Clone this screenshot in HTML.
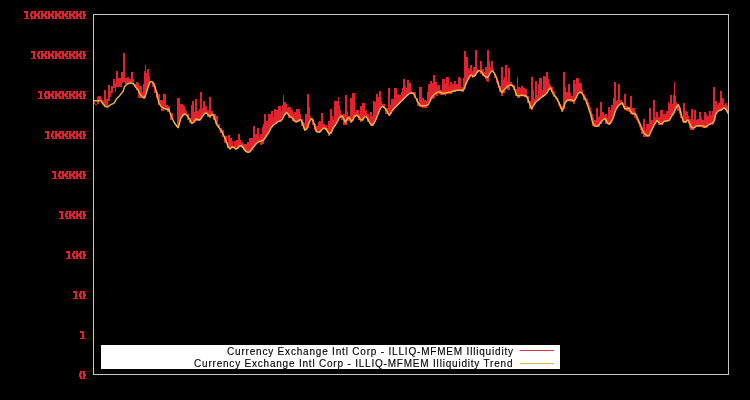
<!DOCTYPE html>
<html><head><meta charset="utf-8"><title>chart</title>
<style>
html,body{margin:0;padding:0;background:#000;}
body{width:750px;height:400px;overflow:hidden;font-family:"Liberation Sans",sans-serif;}
svg{display:block}
text{font-family:"Liberation Sans",sans-serif;font-size:10px;fill:#000;stroke:#000;stroke-width:0.15px}
</style></head><body>
<svg width="750" height="400" viewBox="0 0 750 400">
<rect width="750" height="400" fill="#000"/>
<g fill="#e61f2d" shape-rendering="crispEdges"><rect x="80" y="11" width="5" height="1"/><rect x="80" y="12" width="2" height="1"/><rect x="83" y="12" width="2" height="1"/><rect x="79" y="13" width="3" height="1"/><rect x="83" y="13" width="2" height="1"/><rect x="79" y="14" width="2" height="1"/><rect x="83" y="14" width="3" height="1"/><rect x="79" y="15" width="2" height="1"/><rect x="83" y="15" width="3" height="1"/><rect x="79" y="16" width="3" height="1"/><rect x="83" y="16" width="2" height="1"/><rect x="80" y="17" width="2" height="1"/><rect x="83" y="17" width="2" height="1"/><rect x="80" y="18" width="5" height="1"/><rect x="73" y="11" width="5" height="1"/><rect x="73" y="12" width="2" height="1"/><rect x="76" y="12" width="2" height="1"/><rect x="72" y="13" width="3" height="1"/><rect x="76" y="13" width="2" height="1"/><rect x="72" y="14" width="2" height="1"/><rect x="76" y="14" width="3" height="1"/><rect x="72" y="15" width="2" height="1"/><rect x="76" y="15" width="3" height="1"/><rect x="72" y="16" width="3" height="1"/><rect x="76" y="16" width="2" height="1"/><rect x="73" y="17" width="2" height="1"/><rect x="76" y="17" width="2" height="1"/><rect x="73" y="18" width="5" height="1"/><rect x="66" y="11" width="5" height="1"/><rect x="66" y="12" width="2" height="1"/><rect x="69" y="12" width="2" height="1"/><rect x="65" y="13" width="3" height="1"/><rect x="69" y="13" width="2" height="1"/><rect x="65" y="14" width="2" height="1"/><rect x="69" y="14" width="3" height="1"/><rect x="65" y="15" width="2" height="1"/><rect x="69" y="15" width="3" height="1"/><rect x="65" y="16" width="3" height="1"/><rect x="69" y="16" width="2" height="1"/><rect x="66" y="17" width="2" height="1"/><rect x="69" y="17" width="2" height="1"/><rect x="66" y="18" width="5" height="1"/><rect x="59" y="11" width="5" height="1"/><rect x="59" y="12" width="2" height="1"/><rect x="62" y="12" width="2" height="1"/><rect x="58" y="13" width="3" height="1"/><rect x="62" y="13" width="2" height="1"/><rect x="58" y="14" width="2" height="1"/><rect x="62" y="14" width="3" height="1"/><rect x="58" y="15" width="2" height="1"/><rect x="62" y="15" width="3" height="1"/><rect x="58" y="16" width="3" height="1"/><rect x="62" y="16" width="2" height="1"/><rect x="59" y="17" width="2" height="1"/><rect x="62" y="17" width="2" height="1"/><rect x="59" y="18" width="5" height="1"/><rect x="52" y="11" width="5" height="1"/><rect x="52" y="12" width="2" height="1"/><rect x="55" y="12" width="2" height="1"/><rect x="51" y="13" width="3" height="1"/><rect x="55" y="13" width="2" height="1"/><rect x="51" y="14" width="2" height="1"/><rect x="55" y="14" width="3" height="1"/><rect x="51" y="15" width="2" height="1"/><rect x="55" y="15" width="3" height="1"/><rect x="51" y="16" width="3" height="1"/><rect x="55" y="16" width="2" height="1"/><rect x="52" y="17" width="2" height="1"/><rect x="55" y="17" width="2" height="1"/><rect x="52" y="18" width="5" height="1"/><rect x="45" y="11" width="5" height="1"/><rect x="45" y="12" width="2" height="1"/><rect x="48" y="12" width="2" height="1"/><rect x="44" y="13" width="3" height="1"/><rect x="48" y="13" width="2" height="1"/><rect x="44" y="14" width="2" height="1"/><rect x="48" y="14" width="3" height="1"/><rect x="44" y="15" width="2" height="1"/><rect x="48" y="15" width="3" height="1"/><rect x="44" y="16" width="3" height="1"/><rect x="48" y="16" width="2" height="1"/><rect x="45" y="17" width="2" height="1"/><rect x="48" y="17" width="2" height="1"/><rect x="45" y="18" width="5" height="1"/><rect x="38" y="11" width="5" height="1"/><rect x="38" y="12" width="2" height="1"/><rect x="41" y="12" width="2" height="1"/><rect x="37" y="13" width="3" height="1"/><rect x="41" y="13" width="2" height="1"/><rect x="37" y="14" width="2" height="1"/><rect x="41" y="14" width="3" height="1"/><rect x="37" y="15" width="2" height="1"/><rect x="41" y="15" width="3" height="1"/><rect x="37" y="16" width="3" height="1"/><rect x="41" y="16" width="2" height="1"/><rect x="38" y="17" width="2" height="1"/><rect x="41" y="17" width="2" height="1"/><rect x="38" y="18" width="5" height="1"/><rect x="31" y="11" width="5" height="1"/><rect x="31" y="12" width="2" height="1"/><rect x="34" y="12" width="2" height="1"/><rect x="30" y="13" width="3" height="1"/><rect x="34" y="13" width="2" height="1"/><rect x="30" y="14" width="2" height="1"/><rect x="34" y="14" width="3" height="1"/><rect x="30" y="15" width="2" height="1"/><rect x="34" y="15" width="3" height="1"/><rect x="30" y="16" width="3" height="1"/><rect x="34" y="16" width="2" height="1"/><rect x="31" y="17" width="2" height="1"/><rect x="34" y="17" width="2" height="1"/><rect x="31" y="18" width="5" height="1"/><rect x="24" y="11" width="4" height="1"/><rect x="24" y="12" width="4" height="1"/><rect x="26" y="13" width="2" height="1"/><rect x="26" y="14" width="2" height="1"/><rect x="26" y="15" width="2" height="1"/><rect x="26" y="16" width="2" height="1"/><rect x="26" y="17" width="2" height="1"/><rect x="24" y="18" width="5" height="1"/><rect x="80" y="51" width="5" height="1"/><rect x="80" y="52" width="2" height="1"/><rect x="83" y="52" width="2" height="1"/><rect x="79" y="53" width="3" height="1"/><rect x="83" y="53" width="2" height="1"/><rect x="79" y="54" width="2" height="1"/><rect x="83" y="54" width="3" height="1"/><rect x="79" y="55" width="2" height="1"/><rect x="83" y="55" width="3" height="1"/><rect x="79" y="56" width="3" height="1"/><rect x="83" y="56" width="2" height="1"/><rect x="80" y="57" width="2" height="1"/><rect x="83" y="57" width="2" height="1"/><rect x="80" y="58" width="5" height="1"/><rect x="73" y="51" width="5" height="1"/><rect x="73" y="52" width="2" height="1"/><rect x="76" y="52" width="2" height="1"/><rect x="72" y="53" width="3" height="1"/><rect x="76" y="53" width="2" height="1"/><rect x="72" y="54" width="2" height="1"/><rect x="76" y="54" width="3" height="1"/><rect x="72" y="55" width="2" height="1"/><rect x="76" y="55" width="3" height="1"/><rect x="72" y="56" width="3" height="1"/><rect x="76" y="56" width="2" height="1"/><rect x="73" y="57" width="2" height="1"/><rect x="76" y="57" width="2" height="1"/><rect x="73" y="58" width="5" height="1"/><rect x="66" y="51" width="5" height="1"/><rect x="66" y="52" width="2" height="1"/><rect x="69" y="52" width="2" height="1"/><rect x="65" y="53" width="3" height="1"/><rect x="69" y="53" width="2" height="1"/><rect x="65" y="54" width="2" height="1"/><rect x="69" y="54" width="3" height="1"/><rect x="65" y="55" width="2" height="1"/><rect x="69" y="55" width="3" height="1"/><rect x="65" y="56" width="3" height="1"/><rect x="69" y="56" width="2" height="1"/><rect x="66" y="57" width="2" height="1"/><rect x="69" y="57" width="2" height="1"/><rect x="66" y="58" width="5" height="1"/><rect x="59" y="51" width="5" height="1"/><rect x="59" y="52" width="2" height="1"/><rect x="62" y="52" width="2" height="1"/><rect x="58" y="53" width="3" height="1"/><rect x="62" y="53" width="2" height="1"/><rect x="58" y="54" width="2" height="1"/><rect x="62" y="54" width="3" height="1"/><rect x="58" y="55" width="2" height="1"/><rect x="62" y="55" width="3" height="1"/><rect x="58" y="56" width="3" height="1"/><rect x="62" y="56" width="2" height="1"/><rect x="59" y="57" width="2" height="1"/><rect x="62" y="57" width="2" height="1"/><rect x="59" y="58" width="5" height="1"/><rect x="52" y="51" width="5" height="1"/><rect x="52" y="52" width="2" height="1"/><rect x="55" y="52" width="2" height="1"/><rect x="51" y="53" width="3" height="1"/><rect x="55" y="53" width="2" height="1"/><rect x="51" y="54" width="2" height="1"/><rect x="55" y="54" width="3" height="1"/><rect x="51" y="55" width="2" height="1"/><rect x="55" y="55" width="3" height="1"/><rect x="51" y="56" width="3" height="1"/><rect x="55" y="56" width="2" height="1"/><rect x="52" y="57" width="2" height="1"/><rect x="55" y="57" width="2" height="1"/><rect x="52" y="58" width="5" height="1"/><rect x="45" y="51" width="5" height="1"/><rect x="45" y="52" width="2" height="1"/><rect x="48" y="52" width="2" height="1"/><rect x="44" y="53" width="3" height="1"/><rect x="48" y="53" width="2" height="1"/><rect x="44" y="54" width="2" height="1"/><rect x="48" y="54" width="3" height="1"/><rect x="44" y="55" width="2" height="1"/><rect x="48" y="55" width="3" height="1"/><rect x="44" y="56" width="3" height="1"/><rect x="48" y="56" width="2" height="1"/><rect x="45" y="57" width="2" height="1"/><rect x="48" y="57" width="2" height="1"/><rect x="45" y="58" width="5" height="1"/><rect x="38" y="51" width="5" height="1"/><rect x="38" y="52" width="2" height="1"/><rect x="41" y="52" width="2" height="1"/><rect x="37" y="53" width="3" height="1"/><rect x="41" y="53" width="2" height="1"/><rect x="37" y="54" width="2" height="1"/><rect x="41" y="54" width="3" height="1"/><rect x="37" y="55" width="2" height="1"/><rect x="41" y="55" width="3" height="1"/><rect x="37" y="56" width="3" height="1"/><rect x="41" y="56" width="2" height="1"/><rect x="38" y="57" width="2" height="1"/><rect x="41" y="57" width="2" height="1"/><rect x="38" y="58" width="5" height="1"/><rect x="31" y="51" width="4" height="1"/><rect x="31" y="52" width="4" height="1"/><rect x="33" y="53" width="2" height="1"/><rect x="33" y="54" width="2" height="1"/><rect x="33" y="55" width="2" height="1"/><rect x="33" y="56" width="2" height="1"/><rect x="33" y="57" width="2" height="1"/><rect x="31" y="58" width="5" height="1"/><rect x="80" y="91" width="5" height="1"/><rect x="80" y="92" width="2" height="1"/><rect x="83" y="92" width="2" height="1"/><rect x="79" y="93" width="3" height="1"/><rect x="83" y="93" width="2" height="1"/><rect x="79" y="94" width="2" height="1"/><rect x="83" y="94" width="3" height="1"/><rect x="79" y="95" width="2" height="1"/><rect x="83" y="95" width="3" height="1"/><rect x="79" y="96" width="3" height="1"/><rect x="83" y="96" width="2" height="1"/><rect x="80" y="97" width="2" height="1"/><rect x="83" y="97" width="2" height="1"/><rect x="80" y="98" width="5" height="1"/><rect x="73" y="91" width="5" height="1"/><rect x="73" y="92" width="2" height="1"/><rect x="76" y="92" width="2" height="1"/><rect x="72" y="93" width="3" height="1"/><rect x="76" y="93" width="2" height="1"/><rect x="72" y="94" width="2" height="1"/><rect x="76" y="94" width="3" height="1"/><rect x="72" y="95" width="2" height="1"/><rect x="76" y="95" width="3" height="1"/><rect x="72" y="96" width="3" height="1"/><rect x="76" y="96" width="2" height="1"/><rect x="73" y="97" width="2" height="1"/><rect x="76" y="97" width="2" height="1"/><rect x="73" y="98" width="5" height="1"/><rect x="66" y="91" width="5" height="1"/><rect x="66" y="92" width="2" height="1"/><rect x="69" y="92" width="2" height="1"/><rect x="65" y="93" width="3" height="1"/><rect x="69" y="93" width="2" height="1"/><rect x="65" y="94" width="2" height="1"/><rect x="69" y="94" width="3" height="1"/><rect x="65" y="95" width="2" height="1"/><rect x="69" y="95" width="3" height="1"/><rect x="65" y="96" width="3" height="1"/><rect x="69" y="96" width="2" height="1"/><rect x="66" y="97" width="2" height="1"/><rect x="69" y="97" width="2" height="1"/><rect x="66" y="98" width="5" height="1"/><rect x="59" y="91" width="5" height="1"/><rect x="59" y="92" width="2" height="1"/><rect x="62" y="92" width="2" height="1"/><rect x="58" y="93" width="3" height="1"/><rect x="62" y="93" width="2" height="1"/><rect x="58" y="94" width="2" height="1"/><rect x="62" y="94" width="3" height="1"/><rect x="58" y="95" width="2" height="1"/><rect x="62" y="95" width="3" height="1"/><rect x="58" y="96" width="3" height="1"/><rect x="62" y="96" width="2" height="1"/><rect x="59" y="97" width="2" height="1"/><rect x="62" y="97" width="2" height="1"/><rect x="59" y="98" width="5" height="1"/><rect x="52" y="91" width="5" height="1"/><rect x="52" y="92" width="2" height="1"/><rect x="55" y="92" width="2" height="1"/><rect x="51" y="93" width="3" height="1"/><rect x="55" y="93" width="2" height="1"/><rect x="51" y="94" width="2" height="1"/><rect x="55" y="94" width="3" height="1"/><rect x="51" y="95" width="2" height="1"/><rect x="55" y="95" width="3" height="1"/><rect x="51" y="96" width="3" height="1"/><rect x="55" y="96" width="2" height="1"/><rect x="52" y="97" width="2" height="1"/><rect x="55" y="97" width="2" height="1"/><rect x="52" y="98" width="5" height="1"/><rect x="45" y="91" width="5" height="1"/><rect x="45" y="92" width="2" height="1"/><rect x="48" y="92" width="2" height="1"/><rect x="44" y="93" width="3" height="1"/><rect x="48" y="93" width="2" height="1"/><rect x="44" y="94" width="2" height="1"/><rect x="48" y="94" width="3" height="1"/><rect x="44" y="95" width="2" height="1"/><rect x="48" y="95" width="3" height="1"/><rect x="44" y="96" width="3" height="1"/><rect x="48" y="96" width="2" height="1"/><rect x="45" y="97" width="2" height="1"/><rect x="48" y="97" width="2" height="1"/><rect x="45" y="98" width="5" height="1"/><rect x="38" y="91" width="4" height="1"/><rect x="38" y="92" width="4" height="1"/><rect x="40" y="93" width="2" height="1"/><rect x="40" y="94" width="2" height="1"/><rect x="40" y="95" width="2" height="1"/><rect x="40" y="96" width="2" height="1"/><rect x="40" y="97" width="2" height="1"/><rect x="38" y="98" width="5" height="1"/><rect x="80" y="131" width="5" height="1"/><rect x="80" y="132" width="2" height="1"/><rect x="83" y="132" width="2" height="1"/><rect x="79" y="133" width="3" height="1"/><rect x="83" y="133" width="2" height="1"/><rect x="79" y="134" width="2" height="1"/><rect x="83" y="134" width="3" height="1"/><rect x="79" y="135" width="2" height="1"/><rect x="83" y="135" width="3" height="1"/><rect x="79" y="136" width="3" height="1"/><rect x="83" y="136" width="2" height="1"/><rect x="80" y="137" width="2" height="1"/><rect x="83" y="137" width="2" height="1"/><rect x="80" y="138" width="5" height="1"/><rect x="73" y="131" width="5" height="1"/><rect x="73" y="132" width="2" height="1"/><rect x="76" y="132" width="2" height="1"/><rect x="72" y="133" width="3" height="1"/><rect x="76" y="133" width="2" height="1"/><rect x="72" y="134" width="2" height="1"/><rect x="76" y="134" width="3" height="1"/><rect x="72" y="135" width="2" height="1"/><rect x="76" y="135" width="3" height="1"/><rect x="72" y="136" width="3" height="1"/><rect x="76" y="136" width="2" height="1"/><rect x="73" y="137" width="2" height="1"/><rect x="76" y="137" width="2" height="1"/><rect x="73" y="138" width="5" height="1"/><rect x="66" y="131" width="5" height="1"/><rect x="66" y="132" width="2" height="1"/><rect x="69" y="132" width="2" height="1"/><rect x="65" y="133" width="3" height="1"/><rect x="69" y="133" width="2" height="1"/><rect x="65" y="134" width="2" height="1"/><rect x="69" y="134" width="3" height="1"/><rect x="65" y="135" width="2" height="1"/><rect x="69" y="135" width="3" height="1"/><rect x="65" y="136" width="3" height="1"/><rect x="69" y="136" width="2" height="1"/><rect x="66" y="137" width="2" height="1"/><rect x="69" y="137" width="2" height="1"/><rect x="66" y="138" width="5" height="1"/><rect x="59" y="131" width="5" height="1"/><rect x="59" y="132" width="2" height="1"/><rect x="62" y="132" width="2" height="1"/><rect x="58" y="133" width="3" height="1"/><rect x="62" y="133" width="2" height="1"/><rect x="58" y="134" width="2" height="1"/><rect x="62" y="134" width="3" height="1"/><rect x="58" y="135" width="2" height="1"/><rect x="62" y="135" width="3" height="1"/><rect x="58" y="136" width="3" height="1"/><rect x="62" y="136" width="2" height="1"/><rect x="59" y="137" width="2" height="1"/><rect x="62" y="137" width="2" height="1"/><rect x="59" y="138" width="5" height="1"/><rect x="52" y="131" width="5" height="1"/><rect x="52" y="132" width="2" height="1"/><rect x="55" y="132" width="2" height="1"/><rect x="51" y="133" width="3" height="1"/><rect x="55" y="133" width="2" height="1"/><rect x="51" y="134" width="2" height="1"/><rect x="55" y="134" width="3" height="1"/><rect x="51" y="135" width="2" height="1"/><rect x="55" y="135" width="3" height="1"/><rect x="51" y="136" width="3" height="1"/><rect x="55" y="136" width="2" height="1"/><rect x="52" y="137" width="2" height="1"/><rect x="55" y="137" width="2" height="1"/><rect x="52" y="138" width="5" height="1"/><rect x="45" y="131" width="4" height="1"/><rect x="45" y="132" width="4" height="1"/><rect x="47" y="133" width="2" height="1"/><rect x="47" y="134" width="2" height="1"/><rect x="47" y="135" width="2" height="1"/><rect x="47" y="136" width="2" height="1"/><rect x="47" y="137" width="2" height="1"/><rect x="45" y="138" width="5" height="1"/><rect x="80" y="171" width="5" height="1"/><rect x="80" y="172" width="2" height="1"/><rect x="83" y="172" width="2" height="1"/><rect x="79" y="173" width="3" height="1"/><rect x="83" y="173" width="2" height="1"/><rect x="79" y="174" width="2" height="1"/><rect x="83" y="174" width="3" height="1"/><rect x="79" y="175" width="2" height="1"/><rect x="83" y="175" width="3" height="1"/><rect x="79" y="176" width="3" height="1"/><rect x="83" y="176" width="2" height="1"/><rect x="80" y="177" width="2" height="1"/><rect x="83" y="177" width="2" height="1"/><rect x="80" y="178" width="5" height="1"/><rect x="73" y="171" width="5" height="1"/><rect x="73" y="172" width="2" height="1"/><rect x="76" y="172" width="2" height="1"/><rect x="72" y="173" width="3" height="1"/><rect x="76" y="173" width="2" height="1"/><rect x="72" y="174" width="2" height="1"/><rect x="76" y="174" width="3" height="1"/><rect x="72" y="175" width="2" height="1"/><rect x="76" y="175" width="3" height="1"/><rect x="72" y="176" width="3" height="1"/><rect x="76" y="176" width="2" height="1"/><rect x="73" y="177" width="2" height="1"/><rect x="76" y="177" width="2" height="1"/><rect x="73" y="178" width="5" height="1"/><rect x="66" y="171" width="5" height="1"/><rect x="66" y="172" width="2" height="1"/><rect x="69" y="172" width="2" height="1"/><rect x="65" y="173" width="3" height="1"/><rect x="69" y="173" width="2" height="1"/><rect x="65" y="174" width="2" height="1"/><rect x="69" y="174" width="3" height="1"/><rect x="65" y="175" width="2" height="1"/><rect x="69" y="175" width="3" height="1"/><rect x="65" y="176" width="3" height="1"/><rect x="69" y="176" width="2" height="1"/><rect x="66" y="177" width="2" height="1"/><rect x="69" y="177" width="2" height="1"/><rect x="66" y="178" width="5" height="1"/><rect x="59" y="171" width="5" height="1"/><rect x="59" y="172" width="2" height="1"/><rect x="62" y="172" width="2" height="1"/><rect x="58" y="173" width="3" height="1"/><rect x="62" y="173" width="2" height="1"/><rect x="58" y="174" width="2" height="1"/><rect x="62" y="174" width="3" height="1"/><rect x="58" y="175" width="2" height="1"/><rect x="62" y="175" width="3" height="1"/><rect x="58" y="176" width="3" height="1"/><rect x="62" y="176" width="2" height="1"/><rect x="59" y="177" width="2" height="1"/><rect x="62" y="177" width="2" height="1"/><rect x="59" y="178" width="5" height="1"/><rect x="52" y="171" width="4" height="1"/><rect x="52" y="172" width="4" height="1"/><rect x="54" y="173" width="2" height="1"/><rect x="54" y="174" width="2" height="1"/><rect x="54" y="175" width="2" height="1"/><rect x="54" y="176" width="2" height="1"/><rect x="54" y="177" width="2" height="1"/><rect x="52" y="178" width="5" height="1"/><rect x="80" y="211" width="5" height="1"/><rect x="80" y="212" width="2" height="1"/><rect x="83" y="212" width="2" height="1"/><rect x="79" y="213" width="3" height="1"/><rect x="83" y="213" width="2" height="1"/><rect x="79" y="214" width="2" height="1"/><rect x="83" y="214" width="3" height="1"/><rect x="79" y="215" width="2" height="1"/><rect x="83" y="215" width="3" height="1"/><rect x="79" y="216" width="3" height="1"/><rect x="83" y="216" width="2" height="1"/><rect x="80" y="217" width="2" height="1"/><rect x="83" y="217" width="2" height="1"/><rect x="80" y="218" width="5" height="1"/><rect x="73" y="211" width="5" height="1"/><rect x="73" y="212" width="2" height="1"/><rect x="76" y="212" width="2" height="1"/><rect x="72" y="213" width="3" height="1"/><rect x="76" y="213" width="2" height="1"/><rect x="72" y="214" width="2" height="1"/><rect x="76" y="214" width="3" height="1"/><rect x="72" y="215" width="2" height="1"/><rect x="76" y="215" width="3" height="1"/><rect x="72" y="216" width="3" height="1"/><rect x="76" y="216" width="2" height="1"/><rect x="73" y="217" width="2" height="1"/><rect x="76" y="217" width="2" height="1"/><rect x="73" y="218" width="5" height="1"/><rect x="66" y="211" width="5" height="1"/><rect x="66" y="212" width="2" height="1"/><rect x="69" y="212" width="2" height="1"/><rect x="65" y="213" width="3" height="1"/><rect x="69" y="213" width="2" height="1"/><rect x="65" y="214" width="2" height="1"/><rect x="69" y="214" width="3" height="1"/><rect x="65" y="215" width="2" height="1"/><rect x="69" y="215" width="3" height="1"/><rect x="65" y="216" width="3" height="1"/><rect x="69" y="216" width="2" height="1"/><rect x="66" y="217" width="2" height="1"/><rect x="69" y="217" width="2" height="1"/><rect x="66" y="218" width="5" height="1"/><rect x="59" y="211" width="4" height="1"/><rect x="59" y="212" width="4" height="1"/><rect x="61" y="213" width="2" height="1"/><rect x="61" y="214" width="2" height="1"/><rect x="61" y="215" width="2" height="1"/><rect x="61" y="216" width="2" height="1"/><rect x="61" y="217" width="2" height="1"/><rect x="59" y="218" width="5" height="1"/><rect x="80" y="251" width="5" height="1"/><rect x="80" y="252" width="2" height="1"/><rect x="83" y="252" width="2" height="1"/><rect x="79" y="253" width="3" height="1"/><rect x="83" y="253" width="2" height="1"/><rect x="79" y="254" width="2" height="1"/><rect x="83" y="254" width="3" height="1"/><rect x="79" y="255" width="2" height="1"/><rect x="83" y="255" width="3" height="1"/><rect x="79" y="256" width="3" height="1"/><rect x="83" y="256" width="2" height="1"/><rect x="80" y="257" width="2" height="1"/><rect x="83" y="257" width="2" height="1"/><rect x="80" y="258" width="5" height="1"/><rect x="73" y="251" width="5" height="1"/><rect x="73" y="252" width="2" height="1"/><rect x="76" y="252" width="2" height="1"/><rect x="72" y="253" width="3" height="1"/><rect x="76" y="253" width="2" height="1"/><rect x="72" y="254" width="2" height="1"/><rect x="76" y="254" width="3" height="1"/><rect x="72" y="255" width="2" height="1"/><rect x="76" y="255" width="3" height="1"/><rect x="72" y="256" width="3" height="1"/><rect x="76" y="256" width="2" height="1"/><rect x="73" y="257" width="2" height="1"/><rect x="76" y="257" width="2" height="1"/><rect x="73" y="258" width="5" height="1"/><rect x="66" y="251" width="4" height="1"/><rect x="66" y="252" width="4" height="1"/><rect x="68" y="253" width="2" height="1"/><rect x="68" y="254" width="2" height="1"/><rect x="68" y="255" width="2" height="1"/><rect x="68" y="256" width="2" height="1"/><rect x="68" y="257" width="2" height="1"/><rect x="66" y="258" width="5" height="1"/><rect x="80" y="291" width="5" height="1"/><rect x="80" y="292" width="2" height="1"/><rect x="83" y="292" width="2" height="1"/><rect x="79" y="293" width="3" height="1"/><rect x="83" y="293" width="2" height="1"/><rect x="79" y="294" width="2" height="1"/><rect x="83" y="294" width="3" height="1"/><rect x="79" y="295" width="2" height="1"/><rect x="83" y="295" width="3" height="1"/><rect x="79" y="296" width="3" height="1"/><rect x="83" y="296" width="2" height="1"/><rect x="80" y="297" width="2" height="1"/><rect x="83" y="297" width="2" height="1"/><rect x="80" y="298" width="5" height="1"/><rect x="73" y="291" width="4" height="1"/><rect x="73" y="292" width="4" height="1"/><rect x="75" y="293" width="2" height="1"/><rect x="75" y="294" width="2" height="1"/><rect x="75" y="295" width="2" height="1"/><rect x="75" y="296" width="2" height="1"/><rect x="75" y="297" width="2" height="1"/><rect x="73" y="298" width="5" height="1"/><rect x="80" y="331" width="4" height="1"/><rect x="80" y="332" width="4" height="1"/><rect x="82" y="333" width="2" height="1"/><rect x="82" y="334" width="2" height="1"/><rect x="82" y="335" width="2" height="1"/><rect x="82" y="336" width="2" height="1"/><rect x="82" y="337" width="2" height="1"/><rect x="80" y="338" width="5" height="1"/><rect x="80" y="371" width="5" height="1"/><rect x="80" y="372" width="2" height="1"/><rect x="83" y="372" width="2" height="1"/><rect x="79" y="373" width="3" height="1"/><rect x="83" y="373" width="2" height="1"/><rect x="79" y="374" width="2" height="1"/><rect x="83" y="374" width="3" height="1"/><rect x="79" y="375" width="2" height="1"/><rect x="83" y="375" width="3" height="1"/><rect x="79" y="376" width="3" height="1"/><rect x="83" y="376" width="2" height="1"/><rect x="80" y="377" width="2" height="1"/><rect x="83" y="377" width="2" height="1"/><rect x="80" y="378" width="5" height="1"/></g>
<defs><filter id="b" x="-2%" y="-10%" width="104%" height="120%"><feGaussianBlur in="SourceGraphic" stdDeviation="0.55" result="bl"/><feMerge><feMergeNode in="bl"/><feMergeNode in="SourceGraphic"/></feMerge></filter></defs>
<g fill="#e2222f" filter="url(#b)"><rect x="94" y="102" width="1" height="2"/><rect x="95" y="104" width="1" height="1"/><rect x="96" y="104" width="1" height="1"/><rect x="97" y="97" width="1" height="7"/><rect x="98" y="96" width="1" height="8"/><rect x="99" y="96" width="1" height="4"/><rect x="100" y="96" width="1" height="4"/><rect x="101" y="98" width="1" height="2"/><rect x="102" y="100" width="1" height="2"/><rect x="103" y="101" width="1" height="3"/><rect x="104" y="90" width="1" height="16"/><rect x="105" y="90" width="1" height="16"/><rect x="106" y="99" width="1" height="7"/><rect x="107" y="99" width="1" height="7"/><rect x="108" y="85" width="1" height="16"/><rect x="109" y="85" width="1" height="16"/><rect x="110" y="91" width="1" height="6"/><rect x="111" y="86" width="1" height="7"/><rect x="112" y="86" width="1" height="7"/><rect x="113" y="79" width="1" height="9"/><rect x="114" y="79" width="1" height="9"/><rect x="115" y="83" width="1" height="9"/><rect x="116" y="71" width="1" height="16"/><rect x="117" y="71" width="1" height="16"/><rect x="118" y="78" width="1" height="9"/><rect x="119" y="78" width="1" height="9"/><rect x="120" y="78" width="1" height="9"/><rect x="121" y="72" width="1" height="15"/><rect x="122" y="72" width="1" height="11"/><rect x="123" y="53" width="1" height="29"/><rect x="124" y="53" width="1" height="29"/><rect x="125" y="78" width="1" height="6"/><rect x="126" y="78" width="1" height="6"/><rect x="127" y="77" width="1" height="6"/><rect x="128" y="77" width="1" height="6"/><rect x="129" y="79" width="1" height="3"/><rect x="130" y="79" width="1" height="3"/><rect x="131" y="72" width="1" height="10"/><rect x="132" y="72" width="1" height="10"/><rect x="133" y="79" width="1" height="5"/><rect x="134" y="84" width="1" height="3"/><rect x="135" y="84" width="1" height="3"/><rect x="136" y="82" width="1" height="8"/><rect x="137" y="82" width="1" height="8"/><rect x="138" y="83" width="1" height="15"/><rect x="139" y="86" width="1" height="12"/><rect x="140" y="86" width="1" height="12"/><rect x="141" y="86" width="1" height="12"/><rect x="142" y="92" width="1" height="6"/><rect x="143" y="84" width="1" height="15"/><rect x="144" y="71" width="1" height="28"/><rect x="145" y="65" width="1" height="33"/><rect x="146" y="73" width="1" height="20"/><rect x="147" y="69" width="1" height="21"/><rect x="148" y="69" width="1" height="18"/><rect x="149" y="76" width="1" height="8"/><rect x="150" y="81" width="1" height="1"/><rect x="151" y="81" width="1" height="1"/><rect x="152" y="83" width="1" height="4"/><rect x="153" y="83" width="1" height="4"/><rect x="154" y="83" width="1" height="10"/><rect x="155" y="86" width="1" height="7"/><rect x="156" y="92" width="1" height="6"/><rect x="157" y="92" width="1" height="6"/><rect x="158" y="94" width="1" height="11"/><rect x="159" y="94" width="1" height="11"/><rect x="160" y="100" width="1" height="6"/><rect x="161" y="100" width="1" height="11"/><rect x="162" y="100" width="1" height="11"/><rect x="163" y="94" width="1" height="17"/><rect x="164" y="94" width="1" height="15"/><rect x="165" y="94" width="1" height="15"/><rect x="166" y="105" width="1" height="5"/><rect x="167" y="105" width="1" height="7"/><rect x="168" y="106" width="1" height="6"/><rect x="169" y="106" width="1" height="6"/><rect x="170" y="113" width="1" height="7"/><rect x="171" y="113" width="1" height="7"/><rect x="172" y="113" width="1" height="7"/><rect x="173" y="120" width="1" height="2"/><rect x="174" y="122" width="1" height="2"/><rect x="175" y="124" width="1" height="1"/><rect x="176" y="125" width="1" height="2"/><rect x="177" y="98" width="1" height="30"/><rect x="178" y="98" width="1" height="30"/><rect x="179" y="98" width="1" height="27"/><rect x="180" y="104" width="1" height="17"/><rect x="181" y="104" width="1" height="14"/><rect x="182" y="104" width="1" height="13"/><rect x="183" y="105" width="1" height="11"/><rect x="184" y="106" width="1" height="9"/><rect x="185" y="109" width="1" height="6"/><rect x="186" y="111" width="1" height="5"/><rect x="187" y="114" width="1" height="6"/><rect x="188" y="114" width="1" height="6"/><rect x="189" y="118" width="1" height="5"/><rect x="190" y="118" width="1" height="5"/><rect x="191" y="105" width="1" height="19"/><rect x="192" y="101" width="1" height="22"/><rect x="193" y="101" width="1" height="22"/><rect x="194" y="112" width="1" height="10"/><rect x="195" y="99" width="1" height="22"/><rect x="196" y="99" width="1" height="22"/><rect x="197" y="111" width="1" height="10"/><rect x="198" y="111" width="1" height="10"/><rect x="199" y="109" width="1" height="12"/><rect x="200" y="92" width="1" height="26"/><rect x="201" y="92" width="1" height="26"/><rect x="202" y="108" width="1" height="8"/><rect x="203" y="101" width="1" height="15"/><rect x="204" y="101" width="1" height="13"/><rect x="205" y="106" width="1" height="8"/><rect x="206" y="106" width="1" height="8"/><rect x="207" y="110" width="1" height="7"/><rect x="208" y="110" width="1" height="7"/><rect x="209" y="97" width="1" height="21"/><rect x="210" y="97" width="1" height="21"/><rect x="211" y="111" width="1" height="5"/><rect x="212" y="111" width="1" height="5"/><rect x="213" y="114" width="1" height="6"/><rect x="214" y="114" width="1" height="6"/><rect x="215" y="114" width="1" height="10"/><rect x="216" y="116" width="1" height="8"/><rect x="217" y="116" width="1" height="8"/><rect x="218" y="124" width="1" height="4"/><rect x="219" y="124" width="1" height="4"/><rect x="220" y="128" width="1" height="5"/><rect x="221" y="128" width="1" height="5"/><rect x="222" y="130" width="1" height="7"/><rect x="223" y="130" width="1" height="7"/><rect x="224" y="136" width="1" height="7"/><rect x="225" y="136" width="1" height="7"/><rect x="226" y="136" width="1" height="7"/><rect x="227" y="142" width="1" height="6"/><rect x="228" y="135" width="1" height="13"/><rect x="229" y="135" width="1" height="13"/><rect x="230" y="138" width="1" height="11"/><rect x="231" y="138" width="1" height="10"/><rect x="232" y="141" width="1" height="7"/><rect x="233" y="146" width="1" height="2"/><rect x="234" y="141" width="1" height="8"/><rect x="235" y="141" width="1" height="8"/><rect x="236" y="140" width="1" height="8"/><rect x="237" y="140" width="1" height="8"/><rect x="238" y="134" width="1" height="14"/><rect x="239" y="134" width="1" height="13"/><rect x="240" y="140" width="1" height="7"/><rect x="241" y="142" width="1" height="6"/><rect x="242" y="142" width="1" height="6"/><rect x="243" y="144" width="1" height="6"/><rect x="244" y="144" width="1" height="6"/><rect x="245" y="144" width="1" height="8"/><rect x="246" y="144" width="1" height="8"/><rect x="247" y="142" width="1" height="11"/><rect x="248" y="142" width="1" height="11"/><rect x="249" y="138" width="1" height="14"/><rect x="250" y="138" width="1" height="14"/><rect x="251" y="138" width="1" height="12"/><rect x="252" y="138" width="1" height="12"/><rect x="253" y="126" width="1" height="22"/><rect x="254" y="126" width="1" height="21"/><rect x="255" y="134" width="1" height="11"/><rect x="256" y="134" width="1" height="10"/><rect x="257" y="128" width="1" height="15"/><rect x="258" y="128" width="1" height="15"/><rect x="259" y="137" width="1" height="5"/><rect x="260" y="134" width="1" height="11"/><rect x="261" y="134" width="1" height="11"/><rect x="262" y="127" width="1" height="17"/><rect x="263" y="124" width="1" height="20"/><rect x="264" y="114" width="1" height="26"/><rect x="265" y="114" width="1" height="24"/><rect x="266" y="121" width="1" height="16"/><rect x="267" y="121" width="1" height="14"/><rect x="268" y="114" width="1" height="20"/><rect x="269" y="114" width="1" height="18"/><rect x="270" y="114" width="1" height="16"/><rect x="271" y="111" width="1" height="17"/><rect x="272" y="111" width="1" height="16"/><rect x="273" y="117" width="1" height="9"/><rect x="274" y="109" width="1" height="16"/><rect x="275" y="109" width="1" height="15"/><rect x="276" y="110" width="1" height="14"/><rect x="277" y="110" width="1" height="13"/><rect x="278" y="106" width="1" height="16"/><rect x="279" y="106" width="1" height="16"/><rect x="280" y="106" width="1" height="16"/><rect x="281" y="111" width="1" height="10"/><rect x="282" y="105" width="1" height="15"/><rect x="283" y="95" width="1" height="23"/><rect x="284" y="102" width="1" height="14"/><rect x="285" y="102" width="1" height="13"/><rect x="286" y="104" width="1" height="9"/><rect x="287" y="108" width="1" height="6"/><rect x="288" y="107" width="1" height="11"/><rect x="289" y="107" width="1" height="11"/><rect x="290" y="107" width="1" height="11"/><rect x="291" y="110" width="1" height="8"/><rect x="292" y="110" width="1" height="11"/><rect x="293" y="113" width="1" height="8"/><rect x="294" y="112" width="1" height="10"/><rect x="295" y="112" width="1" height="10"/><rect x="296" y="109" width="1" height="13"/><rect x="297" y="109" width="1" height="13"/><rect x="298" y="109" width="1" height="13"/><rect x="299" y="109" width="1" height="13"/><rect x="300" y="114" width="1" height="6"/><rect x="301" y="119" width="1" height="7"/><rect x="302" y="119" width="1" height="7"/><rect x="303" y="122" width="1" height="7"/><rect x="304" y="123" width="1" height="8"/><rect x="305" y="114" width="1" height="16"/><rect x="306" y="114" width="1" height="16"/><rect x="307" y="94" width="1" height="34"/><rect x="308" y="94" width="1" height="34"/><rect x="309" y="107" width="1" height="16"/><rect x="310" y="116" width="1" height="5"/><rect x="311" y="118" width="1" height="2"/><rect x="312" y="120" width="1" height="5"/><rect x="313" y="120" width="1" height="5"/><rect x="314" y="124" width="1" height="6"/><rect x="315" y="124" width="1" height="8"/><rect x="316" y="126" width="1" height="6"/><rect x="317" y="126" width="1" height="6"/><rect x="318" y="122" width="1" height="10"/><rect x="319" y="121" width="1" height="12"/><rect x="320" y="121" width="1" height="11"/><rect x="321" y="113" width="1" height="18"/><rect x="322" y="113" width="1" height="17"/><rect x="323" y="124" width="1" height="5"/><rect x="324" y="124" width="1" height="5"/><rect x="325" y="125" width="1" height="5"/><rect x="326" y="125" width="1" height="5"/><rect x="327" y="128" width="1" height="5"/><rect x="328" y="121" width="1" height="15"/><rect x="329" y="121" width="1" height="15"/><rect x="330" y="109" width="1" height="25"/><rect x="331" y="109" width="1" height="25"/><rect x="332" y="116" width="1" height="15"/><rect x="333" y="120" width="1" height="8"/><rect x="334" y="101" width="1" height="26"/><rect x="335" y="101" width="1" height="25"/><rect x="336" y="101" width="1" height="23"/><rect x="337" y="101" width="1" height="21"/><rect x="338" y="97" width="1" height="23"/><rect x="339" y="105" width="1" height="13"/><rect x="340" y="110" width="1" height="8"/><rect x="341" y="114" width="1" height="6"/><rect x="342" y="115" width="1" height="5"/><rect x="343" y="114" width="1" height="11"/><rect x="344" y="114" width="1" height="11"/><rect x="345" y="95" width="1" height="30"/><rect x="346" y="95" width="1" height="30"/><rect x="347" y="111" width="1" height="10"/><rect x="348" y="116" width="1" height="5"/><rect x="349" y="116" width="1" height="5"/><rect x="350" y="98" width="1" height="25"/><rect x="351" y="98" width="1" height="25"/><rect x="352" y="93" width="1" height="28"/><rect x="353" y="93" width="1" height="27"/><rect x="354" y="93" width="1" height="24"/><rect x="355" y="112" width="1" height="5"/><rect x="356" y="110" width="1" height="6"/><rect x="357" y="110" width="1" height="7"/><rect x="358" y="110" width="1" height="10"/><rect x="359" y="114" width="1" height="6"/><rect x="360" y="106" width="1" height="16"/><rect x="361" y="106" width="1" height="16"/><rect x="362" y="103" width="1" height="18"/><rect x="363" y="103" width="1" height="16"/><rect x="364" y="103" width="1" height="15"/><rect x="365" y="111" width="1" height="6"/><rect x="366" y="110" width="1" height="8"/><rect x="367" y="114" width="1" height="8"/><rect x="368" y="114" width="1" height="8"/><rect x="369" y="117" width="1" height="7"/><rect x="370" y="112" width="1" height="14"/><rect x="371" y="112" width="1" height="14"/><rect x="372" y="116" width="1" height="10"/><rect x="373" y="101" width="1" height="25"/><rect x="374" y="101" width="1" height="22"/><rect x="375" y="102" width="1" height="19"/><rect x="376" y="94" width="1" height="25"/><rect x="377" y="94" width="1" height="22"/><rect x="378" y="97" width="1" height="17"/><rect x="379" y="91" width="1" height="20"/><rect x="380" y="91" width="1" height="18"/><rect x="381" y="101" width="1" height="7"/><rect x="382" y="104" width="1" height="3"/><rect x="383" y="104" width="1" height="4"/><rect x="384" y="104" width="1" height="4"/><rect x="385" y="108" width="1" height="6"/><rect x="386" y="108" width="1" height="6"/><rect x="387" y="108" width="1" height="6"/><rect x="388" y="88" width="1" height="28"/><rect x="389" y="88" width="1" height="28"/><rect x="390" y="105" width="1" height="9"/><rect x="391" y="99" width="1" height="15"/><rect x="392" y="99" width="1" height="12"/><rect x="393" y="99" width="1" height="11"/><rect x="394" y="88" width="1" height="21"/><rect x="395" y="88" width="1" height="20"/><rect x="396" y="88" width="1" height="19"/><rect x="397" y="94" width="1" height="12"/><rect x="398" y="94" width="1" height="11"/><rect x="399" y="95" width="1" height="9"/><rect x="400" y="95" width="1" height="8"/><rect x="401" y="92" width="1" height="10"/><rect x="402" y="88" width="1" height="13"/><rect x="403" y="79" width="1" height="21"/><rect x="404" y="79" width="1" height="20"/><rect x="405" y="86" width="1" height="12"/><rect x="406" y="88" width="1" height="9"/><rect x="407" y="80" width="1" height="16"/><rect x="408" y="80" width="1" height="15"/><rect x="409" y="83" width="1" height="11"/><rect x="410" y="83" width="1" height="11"/><rect x="411" y="91" width="1" height="3"/><rect x="412" y="92" width="1" height="2"/><rect x="413" y="92" width="1" height="2"/><rect x="414" y="92" width="1" height="6"/><rect x="415" y="92" width="1" height="6"/><rect x="416" y="98" width="1" height="4"/><rect x="417" y="98" width="1" height="8"/><rect x="418" y="102" width="1" height="4"/><rect x="419" y="87" width="1" height="20"/><rect x="420" y="87" width="1" height="20"/><rect x="421" y="87" width="1" height="20"/><rect x="422" y="98" width="1" height="10"/><rect x="423" y="98" width="1" height="10"/><rect x="424" y="100" width="1" height="8"/><rect x="425" y="100" width="1" height="8"/><rect x="426" y="101" width="1" height="7"/><rect x="427" y="92" width="1" height="14"/><rect x="428" y="84" width="1" height="21"/><rect x="429" y="84" width="1" height="19"/><rect x="430" y="81" width="1" height="20"/><rect x="431" y="81" width="1" height="17"/><rect x="432" y="83" width="1" height="16"/><rect x="433" y="75" width="1" height="24"/><rect x="434" y="75" width="1" height="23"/><rect x="435" y="82" width="1" height="13"/><rect x="436" y="82" width="1" height="14"/><rect x="437" y="86" width="1" height="10"/><rect x="438" y="85" width="1" height="9"/><rect x="439" y="85" width="1" height="9"/><rect x="440" y="90" width="1" height="5"/><rect x="441" y="90" width="1" height="5"/><rect x="442" y="79" width="1" height="16"/><rect x="443" y="79" width="1" height="16"/><rect x="444" y="79" width="1" height="16"/><rect x="445" y="83" width="1" height="13"/><rect x="446" y="77" width="1" height="17"/><rect x="447" y="77" width="1" height="17"/><rect x="448" y="77" width="1" height="17"/><rect x="449" y="86" width="1" height="7"/><rect x="450" y="82" width="1" height="12"/><rect x="451" y="82" width="1" height="12"/><rect x="452" y="84" width="1" height="8"/><rect x="453" y="84" width="1" height="8"/><rect x="454" y="81" width="1" height="11"/><rect x="455" y="81" width="1" height="11"/><rect x="456" y="84" width="1" height="7"/><rect x="457" y="84" width="1" height="7"/><rect x="458" y="77" width="1" height="14"/><rect x="459" y="77" width="1" height="14"/><rect x="460" y="78" width="1" height="13"/><rect x="461" y="87" width="1" height="5"/><rect x="462" y="87" width="1" height="5"/><rect x="463" y="78" width="1" height="14"/><rect x="464" y="51" width="1" height="38"/><rect x="465" y="51" width="1" height="35"/><rect x="466" y="57" width="1" height="27"/><rect x="467" y="57" width="1" height="24"/><rect x="468" y="68" width="1" height="11"/><rect x="469" y="70" width="1" height="8"/><rect x="470" y="65" width="1" height="12"/><rect x="471" y="65" width="1" height="11"/><rect x="472" y="71" width="1" height="7"/><rect x="473" y="67" width="1" height="10"/><rect x="474" y="67" width="1" height="10"/><rect x="475" y="50" width="1" height="26"/><rect x="476" y="50" width="1" height="24"/><rect x="477" y="69" width="1" height="4"/><rect x="478" y="70" width="1" height="2"/><rect x="479" y="70" width="1" height="1"/><rect x="480" y="61" width="1" height="13"/><rect x="481" y="61" width="1" height="13"/><rect x="482" y="69" width="1" height="7"/><rect x="483" y="69" width="1" height="7"/><rect x="484" y="72" width="1" height="5"/><rect x="485" y="67" width="1" height="12"/><rect x="486" y="67" width="1" height="14"/><rect x="487" y="50" width="1" height="32"/><rect x="488" y="50" width="1" height="32"/><rect x="489" y="61" width="1" height="14"/><rect x="490" y="67" width="1" height="6"/><rect x="491" y="61" width="1" height="11"/><rect x="492" y="61" width="1" height="11"/><rect x="493" y="69" width="1" height="4"/><rect x="494" y="73" width="1" height="5"/><rect x="495" y="74" width="1" height="4"/><rect x="496" y="78" width="1" height="5"/><rect x="497" y="80" width="1" height="5"/><rect x="498" y="83" width="1" height="5"/><rect x="499" y="86" width="1" height="6"/><rect x="500" y="86" width="1" height="6"/><rect x="501" y="67" width="1" height="29"/><rect x="502" y="67" width="1" height="29"/><rect x="503" y="80" width="1" height="13"/><rect x="504" y="77" width="1" height="16"/><rect x="505" y="65" width="1" height="24"/><rect x="506" y="65" width="1" height="23"/><rect x="507" y="81" width="1" height="9"/><rect x="508" y="68" width="1" height="22"/><rect x="509" y="68" width="1" height="22"/><rect x="510" y="82" width="1" height="4"/><rect x="511" y="82" width="1" height="4"/><rect x="512" y="84" width="1" height="3"/><rect x="513" y="85" width="1" height="5"/><rect x="514" y="85" width="1" height="5"/><rect x="515" y="89" width="1" height="7"/><rect x="516" y="89" width="1" height="7"/><rect x="517" y="77" width="1" height="21"/><rect x="518" y="87" width="1" height="11"/><rect x="519" y="87" width="1" height="11"/><rect x="520" y="88" width="1" height="8"/><rect x="521" y="86" width="1" height="10"/><rect x="522" y="86" width="1" height="10"/><rect x="523" y="88" width="1" height="8"/><rect x="524" y="88" width="1" height="9"/><rect x="525" y="89" width="1" height="8"/><rect x="526" y="89" width="1" height="9"/><rect x="527" y="96" width="1" height="7"/><rect x="528" y="96" width="1" height="7"/><rect x="529" y="101" width="1" height="8"/><rect x="530" y="101" width="1" height="8"/><rect x="531" y="77" width="1" height="33"/><rect x="532" y="77" width="1" height="33"/><rect x="533" y="90" width="1" height="16"/><rect x="534" y="99" width="1" height="6"/><rect x="535" y="81" width="1" height="22"/><rect x="536" y="81" width="1" height="21"/><rect x="537" y="95" width="1" height="6"/><rect x="538" y="84" width="1" height="17"/><rect x="539" y="78" width="1" height="22"/><rect x="540" y="78" width="1" height="21"/><rect x="541" y="78" width="1" height="20"/><rect x="542" y="90" width="1" height="7"/><rect x="543" y="76" width="1" height="21"/><rect x="544" y="76" width="1" height="20"/><rect x="545" y="77" width="1" height="18"/><rect x="546" y="72" width="1" height="22"/><rect x="547" y="72" width="1" height="21"/><rect x="548" y="79" width="1" height="12"/><rect x="549" y="83" width="1" height="7"/><rect x="550" y="85" width="1" height="4"/><rect x="551" y="87" width="1" height="5"/><rect x="552" y="87" width="1" height="5"/><rect x="553" y="91" width="1" height="6"/><rect x="554" y="91" width="1" height="6"/><rect x="555" y="96" width="1" height="3"/><rect x="556" y="97" width="1" height="3"/><rect x="557" y="98" width="1" height="4"/><rect x="558" y="101" width="1" height="4"/><rect x="559" y="102" width="1" height="5"/><rect x="560" y="104" width="1" height="5"/><rect x="561" y="106" width="1" height="6"/><rect x="562" y="106" width="1" height="6"/><rect x="563" y="72" width="1" height="37"/><rect x="564" y="72" width="1" height="37"/><rect x="565" y="87" width="1" height="16"/><rect x="566" y="92" width="1" height="10"/><rect x="567" y="92" width="1" height="9"/><rect x="568" y="84" width="1" height="17"/><rect x="569" y="84" width="1" height="17"/><rect x="570" y="93" width="1" height="9"/><rect x="571" y="96" width="1" height="6"/><rect x="572" y="96" width="1" height="6"/><rect x="573" y="80" width="1" height="24"/><rect x="574" y="80" width="1" height="24"/><rect x="575" y="84" width="1" height="16"/><rect x="576" y="78" width="1" height="20"/><rect x="577" y="78" width="1" height="18"/><rect x="578" y="78" width="1" height="16"/><rect x="579" y="83" width="1" height="10"/><rect x="580" y="83" width="1" height="10"/><rect x="581" y="83" width="1" height="11"/><rect x="582" y="90" width="1" height="5"/><rect x="583" y="94" width="1" height="6"/><rect x="584" y="94" width="1" height="6"/><rect x="585" y="96" width="1" height="5"/><rect x="586" y="98" width="1" height="6"/><rect x="587" y="99" width="1" height="7"/><rect x="588" y="102" width="1" height="7"/><rect x="589" y="105" width="1" height="7"/><rect x="590" y="107" width="1" height="8"/><rect x="591" y="111" width="1" height="8"/><rect x="592" y="114" width="1" height="12"/><rect x="593" y="117" width="1" height="9"/><rect x="594" y="120" width="1" height="7"/><rect x="595" y="120" width="1" height="7"/><rect x="596" y="108" width="1" height="19"/><rect x="597" y="108" width="1" height="19"/><rect x="598" y="117" width="1" height="10"/><rect x="599" y="116" width="1" height="11"/><rect x="600" y="102" width="1" height="22"/><rect x="601" y="102" width="1" height="22"/><rect x="602" y="112" width="1" height="9"/><rect x="603" y="112" width="1" height="8"/><rect x="604" y="115" width="1" height="5"/><rect x="605" y="114" width="1" height="10"/><rect x="606" y="114" width="1" height="10"/><rect x="607" y="118" width="1" height="6"/><rect x="608" y="107" width="1" height="18"/><rect x="609" y="107" width="1" height="18"/><rect x="610" y="110" width="1" height="14"/><rect x="611" y="105" width="1" height="17"/><rect x="612" y="105" width="1" height="15"/><rect x="613" y="98" width="1" height="20"/><rect x="614" y="82" width="1" height="33"/><rect x="615" y="82" width="1" height="30"/><rect x="616" y="101" width="1" height="8"/><rect x="617" y="100" width="1" height="8"/><rect x="618" y="84" width="1" height="22"/><rect x="619" y="84" width="1" height="22"/><rect x="620" y="100" width="1" height="5"/><rect x="621" y="100" width="1" height="4"/><rect x="622" y="102" width="1" height="3"/><rect x="623" y="103" width="1" height="5"/><rect x="624" y="94" width="1" height="16"/><rect x="625" y="94" width="1" height="16"/><rect x="626" y="106" width="1" height="5"/><rect x="627" y="106" width="1" height="5"/><rect x="628" y="107" width="1" height="5"/><rect x="629" y="107" width="1" height="5"/><rect x="630" y="96" width="1" height="18"/><rect x="631" y="96" width="1" height="18"/><rect x="632" y="108" width="1" height="7"/><rect x="633" y="108" width="1" height="7"/><rect x="634" y="108" width="1" height="10"/><rect x="635" y="112" width="1" height="6"/><rect x="636" y="116" width="1" height="4"/><rect x="637" y="118" width="1" height="4"/><rect x="638" y="120" width="1" height="4"/><rect x="639" y="122" width="1" height="5"/><rect x="640" y="125" width="1" height="5"/><rect x="641" y="126" width="1" height="8"/><rect x="642" y="127" width="1" height="7"/><rect x="643" y="119" width="1" height="18"/><rect x="644" y="119" width="1" height="18"/><rect x="645" y="130" width="1" height="7"/><rect x="646" y="124" width="1" height="13"/><rect x="647" y="124" width="1" height="13"/><rect x="648" y="124" width="1" height="13"/><rect x="649" y="108" width="1" height="26"/><rect x="650" y="108" width="1" height="26"/><rect x="651" y="120" width="1" height="11"/><rect x="652" y="120" width="1" height="9"/><rect x="653" y="100" width="1" height="27"/><rect x="654" y="100" width="1" height="25"/><rect x="655" y="117" width="1" height="7"/><rect x="656" y="112" width="1" height="10"/><rect x="657" y="112" width="1" height="10"/><rect x="658" y="117" width="1" height="8"/><rect x="659" y="117" width="1" height="8"/><rect x="660" y="110" width="1" height="15"/><rect x="661" y="110" width="1" height="15"/><rect x="662" y="110" width="1" height="15"/><rect x="663" y="114" width="1" height="9"/><rect x="664" y="114" width="1" height="8"/><rect x="665" y="114" width="1" height="8"/><rect x="666" y="111" width="1" height="11"/><rect x="667" y="111" width="1" height="11"/><rect x="668" y="102" width="1" height="19"/><rect x="669" y="104" width="1" height="17"/><rect x="670" y="95" width="1" height="24"/><rect x="671" y="95" width="1" height="22"/><rect x="672" y="104" width="1" height="12"/><rect x="673" y="95" width="1" height="21"/><rect x="674" y="82" width="1" height="31"/><rect x="675" y="96" width="1" height="14"/><rect x="676" y="102" width="1" height="6"/><rect x="677" y="104" width="1" height="7"/><rect x="678" y="104" width="1" height="7"/><rect x="679" y="108" width="1" height="6"/><rect x="680" y="108" width="1" height="10"/><rect x="681" y="111" width="1" height="7"/><rect x="682" y="116" width="1" height="6"/><rect x="683" y="103" width="1" height="20"/><rect x="684" y="103" width="1" height="20"/><rect x="685" y="111" width="1" height="12"/><rect x="686" y="111" width="1" height="11"/><rect x="687" y="112" width="1" height="9"/><rect x="688" y="116" width="1" height="8"/><rect x="689" y="119" width="1" height="9"/><rect x="690" y="119" width="1" height="11"/><rect x="691" y="109" width="1" height="21"/><rect x="692" y="109" width="1" height="21"/><rect x="693" y="120" width="1" height="10"/><rect x="694" y="110" width="1" height="18"/><rect x="695" y="110" width="1" height="18"/><rect x="696" y="120" width="1" height="7"/><rect x="697" y="119" width="1" height="8"/><rect x="698" y="119" width="1" height="8"/><rect x="699" y="112" width="1" height="15"/><rect x="700" y="112" width="1" height="15"/><rect x="701" y="118" width="1" height="9"/><rect x="702" y="120" width="1" height="8"/><rect x="703" y="120" width="1" height="8"/><rect x="704" y="112" width="1" height="16"/><rect x="705" y="112" width="1" height="16"/><rect x="706" y="114" width="1" height="14"/><rect x="707" y="116" width="1" height="11"/><rect x="708" y="116" width="1" height="10"/><rect x="709" y="111" width="1" height="14"/><rect x="710" y="111" width="1" height="14"/><rect x="711" y="115" width="1" height="9"/><rect x="712" y="111" width="1" height="14"/><rect x="713" y="87" width="1" height="36"/><rect x="714" y="87" width="1" height="34"/><rect x="715" y="101" width="1" height="15"/><rect x="716" y="101" width="1" height="13"/><rect x="717" y="105" width="1" height="8"/><rect x="718" y="103" width="1" height="9"/><rect x="719" y="103" width="1" height="8"/><rect x="720" y="91" width="1" height="20"/><rect x="721" y="91" width="1" height="20"/><rect x="722" y="98" width="1" height="12"/><rect x="723" y="99" width="1" height="10"/><rect x="724" y="105" width="1" height="4"/><rect x="725" y="103" width="1" height="7"/><rect x="726" y="103" width="1" height="8"/><rect x="727" y="106" width="1" height="8"/><rect x="728" y="106" width="1" height="8"/></g>
<path d="M93.50,100.80 L101.10,100.80 L102.75,103.50 L105.20,106.50 L107.60,107.10 L110.00,105.20 L114.10,103.20 L116.60,98.70 L119.80,95.40 L123.10,91.30 L124.70,86.50 L127.10,84.00 L130.70,82.70 L133.70,84.00 L136.10,87.60 L138.00,90.00 L140.00,94.00 L142.50,97.00 L144.50,97.80 L146.00,94.00 L147.50,89.00 L149.00,84.50 L150.50,81.50 L152.00,81.50 L153.50,83.50 L155.00,87.00 L156.50,92.00 L157.50,97.00 L159.00,103.00 L161.00,106.50 L164.00,108.50 L167.00,109.50 L168.50,109.00 L170.50,114.00 L172.00,118.00 L174.50,123.00 L177.00,126.50 L178.20,127.80 L179.50,123.00 L181.00,118.00 L183.00,115.00 L185.00,114.00 L187.00,115.50 L189.50,119.00 L192.00,123.50 L194.00,122.00 L196.00,119.00 L198.00,119.50 L200.00,120.00 L202.00,117.00 L204.50,113.50 L206.50,113.00 L208.50,115.00 L210.00,116.50 L212.00,114.50 L213.50,115.00 L215.00,119.50 L217.00,125.00 L220.00,129.00 L222.50,133.00 L224.50,137.00 L226.50,142.00 L228.00,146.50 L230.00,149.00 L232.00,147.00 L233.50,147.00 L235.50,149.00 L237.50,148.50 L239.50,146.00 L241.50,145.50 L243.50,148.00 L245.50,151.00 L247.50,152.20 L249.50,152.00 L251.50,149.50 L253.50,147.00 L255.50,144.50 L257.50,142.50 L260.00,141.20 L262.00,140.80 L264.00,139.50 L265.00,138.00 L267.00,135.00 L269.00,132.00 L271.00,128.00 L273.00,125.50 L275.50,123.50 L278.00,121.50 L280.50,121.00 L282.50,119.00 L284.50,115.00 L286.50,112.50 L288.00,114.00 L290.00,116.50 L292.50,118.20 L294.50,121.00 L296.50,122.00 L298.50,120.50 L300.50,119.50 L302.00,121.50 L303.50,126.50 L305.00,130.30 L307.00,128.50 L309.00,123.00 L311.00,119.00 L312.50,119.00 L314.00,123.50 L315.50,129.00 L317.00,132.00 L320.00,132.00 L322.00,129.50 L324.00,128.00 L326.00,129.00 L327.50,131.50 L329.50,134.00 L331.50,132.00 L333.50,127.50 L335.50,125.00 L337.50,121.50 L339.50,117.50 L341.50,115.80 L343.00,117.00 L344.50,120.50 L345.50,122.30 L346.50,120.00 L348.50,117.50 L350.00,119.00 L351.50,121.50 L353.00,120.00 L354.50,116.50 L356.50,115.20 L358.50,116.50 L360.50,119.50 L362.50,120.00 L364.00,117.50 L365.50,116.50 L367.00,117.50 L368.50,120.50 L370.50,124.00 L372.50,125.00 L374.50,122.50 L376.50,118.00 L378.50,113.00 L380.50,108.00 L382.50,106.50 L384.50,107.50 L386.50,110.50 L388.50,114.00 L389.70,115.00 L392.00,111.00 L394.50,108.00 L397.00,105.50 L399.50,103.00 L402.00,100.50 L404.50,98.00 L407.00,95.50 L409.50,93.50 L411.50,93.00 L413.50,93.50 L415.00,96.50 L417.00,100.00 L419.00,104.00 L421.00,105.80 L423.50,105.80 L426.00,105.50 L428.00,105.00 L430.00,101.50 L431.50,97.50 L433.50,95.00 L435.50,93.50 L437.50,92.00 L440.00,92.00 L442.50,93.50 L445.00,93.00 L448.00,92.50 L451.00,92.00 L454.00,91.00 L457.00,90.20 L460.00,90.20 L463.00,90.20 L464.50,88.50 L465.50,85.00 L467.00,81.50 L468.50,78.50 L470.00,76.00 L471.50,75.00 L473.00,76.50 L475.00,75.50 L476.50,73.00 L478.00,71.00 L479.50,70.50 L481.00,71.50 L482.50,73.50 L484.00,75.50 L486.00,77.00 L487.50,77.50 L489.00,75.50 L490.50,72.50 L492.00,71.00 L494.00,72.50 L496.00,76.50 L497.50,80.50 L499.00,86.00 L500.50,90.50 L502.00,92.50 L504.00,90.00 L506.00,88.00 L508.00,86.00 L510.00,84.80 L512.00,85.50 L514.00,87.50 L515.50,92.00 L517.00,95.50 L519.50,95.80 L522.00,95.20 L525.00,95.80 L526.00,96.00 L527.50,98.00 L529.00,102.00 L530.50,106.50 L531.80,108.50 L533.50,105.50 L535.50,102.50 L537.50,100.50 L540.00,98.50 L542.50,96.50 L545.00,95.00 L547.00,93.00 L548.80,89.50 L550.50,87.80 L552.00,91.50 L553.50,94.50 L555.50,96.50 L557.50,99.50 L559.50,104.00 L561.00,108.00 L562.50,110.50 L563.80,107.50 L565.00,103.00 L567.00,100.50 L569.00,100.00 L571.00,99.50 L572.00,100.20 L574.00,101.00 L575.50,99.00 L577.00,96.00 L578.50,93.00 L580.00,92.20 L582.00,93.00 L583.50,96.00 L585.00,99.00 L586.50,102.00 L588.00,106.50 L589.50,111.00 L591.00,115.50 L592.20,121.00 L593.50,124.50 L595.00,126.00 L597.50,126.00 L599.50,124.00 L601.50,121.50 L603.50,119.50 L605.00,118.50 L606.50,121.00 L608.00,123.50 L609.50,124.00 L611.50,121.50 L613.50,117.50 L615.00,112.00 L616.50,108.50 L618.50,105.50 L620.50,104.00 L622.20,103.00 L623.50,106.00 L625.00,108.50 L627.00,109.00 L629.00,108.00 L630.50,111.00 L632.00,113.50 L634.00,113.50 L636.00,114.50 L637.50,118.00 L639.00,121.50 L640.50,125.00 L642.00,129.00 L643.50,132.50 L645.50,134.50 L647.50,135.80 L649.20,135.50 L650.50,132.50 L652.00,129.50 L653.50,126.50 L655.00,123.50 L657.00,120.50 L658.50,122.00 L660.00,123.50 L662.00,123.80 L664.00,121.50 L666.50,120.80 L669.00,120.50 L671.00,117.50 L672.50,114.00 L674.00,113.00 L675.50,109.00 L677.00,106.50 L678.30,104.80 L679.50,107.00 L680.50,112.00 L682.00,117.50 L683.50,121.50 L685.50,122.20 L687.50,120.00 L689.00,121.50 L690.50,125.50 L692.00,127.80 L694.00,128.00 L696.00,126.00 L698.50,125.80 L701.00,125.80 L703.00,126.00 L705.00,127.00 L707.00,126.00 L709.00,124.50 L711.50,123.50 L713.50,122.50 L714.50,120.00 L715.50,115.00 L717.00,112.00 L719.00,110.50 L721.00,110.00 L723.00,108.50 L724.50,108.00 L726.00,109.50 L727.50,112.00 L728.30,113.50" fill="none" stroke="#f0c840" stroke-opacity="0.9" stroke-width="1.5" stroke-linejoin="round"/>
<rect x="93.5" y="14.5" width="635" height="360" fill="none" stroke="#c6c6c6" stroke-width="1"/>
<rect x="101" y="345" width="459" height="24" fill="#fff"/>
<g opacity="0.99"><text x="513" y="354.5" text-anchor="end" textLength="286" lengthAdjust="spacing">Currency Exchange Intl Corp - ILLIQ-MFMEM Illiquidity</text>
<text x="512.5" y="367" text-anchor="end" textLength="318.5" lengthAdjust="spacing">Currency Exchange Intl Corp - ILLIQ-MFMEM Illiquidity Trend</text></g>
<rect x="520" y="350" width="34" height="1" fill="#e23a48"/>
<rect x="520" y="363" width="34" height="1" fill="#dcb850"/>
</svg>
</body></html>
